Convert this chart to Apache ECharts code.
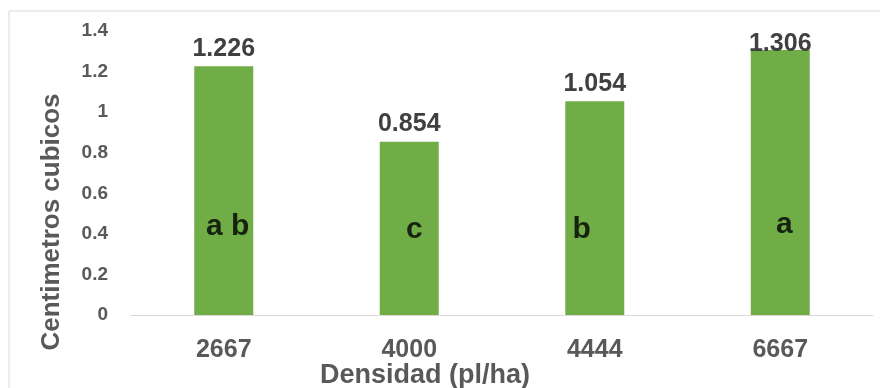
<!DOCTYPE html>
<html>
<head>
<meta charset="utf-8">
<script src="https://cdn.jsdelivr.net/npm/echarts@6/dist/echarts.min.js"></script>
<style>html,body{margin:0;padding:0;background:#fff;}#c{width:880px;height:388px;}</style>
</head>
<body>
<div id="c"></div>
<script>
const categories = ['2667', '4000', '4444', '6667'];
const values = [1.226, 0.854, 1.054, 1.306];
const letters = ['a b', 'c', 'b', 'a'];
const letterLevels = [0.434, 0.419, 0.419, 0.446];
const yTicks = [0, 0.2, 0.4, 0.6, 0.8, 1, 1.2, 1.4];

const letterShift = [4, 5, -13, 4];
const font = 'Liberation Sans, Arial, sans-serif';

const chart = echarts.init(document.getElementById('c'));
chart.setOption({
  animation: false,
  grid: { left: 131, right: 7, top: 31, bottom: 73 },
  xAxis: {
    type: 'category',
    data: categories,
    axisLine: { lineStyle: { color: '#D9D9D9', width: 1 } },
    axisTick: { show: false },
    axisLabel: { color: '#595959', fontWeight: 'bold', fontSize: 25, fontFamily: font, margin: 23 }
  },
  yAxis: {
    type: 'value',
    min: yTicks[0],
    max: yTicks[yTicks.length - 1],
    interval: 0.2,
    axisLine: { show: false },
    axisTick: { show: false },
    splitLine: { show: false },
    axisLabel: { color: '#595959', fontWeight: 'bold', fontSize: 19, fontFamily: font, margin: 23,
      formatter: v => String(Math.round(v * 10) / 10) }
  },
  series: [
    {
      type: 'bar',
      data: values.map((v, i) => ({
        value: v,
        label: i === 3 ? { offset: [0, 12] } : {}
      })),
      barWidth: 59,
      itemStyle: { color: '#70AD47' },
      label: {
        show: true, position: 'top', distance: 5,
        color: '#404040', fontWeight: 'bold', fontSize: 25, fontFamily: font,
        formatter: p => p.value.toFixed(3)
      }
    },
    {
      type: 'scatter',
      symbolSize: 0,
      data: letterLevels.map((v, i) => ({
        value: [categories[i], v],
        label: { offset: [letterShift[i], 0] }
      })),
      label: {
        show: true, position: 'inside',
        color: '#000', fontWeight: 'bold', fontSize: 30, fontFamily: font,
        formatter: p => letters[p.dataIndex]
      },
      z: 5
    }
  ],
  graphic: [
    { type: 'rect', shape: { x: 9, y: 11, width: 900, height: 420 }, style: { fill: 'none', stroke: '#D9D9D9', lineWidth: 1 }, silent: true },
    { type: 'text', x: 52, y: 222, rotation: Math.PI / 2,
      style: { text: 'Centimetros cubicos', fill: '#595959', font: 'bold 26px ' + font, align: 'center', verticalAlign: 'middle' } },
    { type: 'text', x: 425, y: 376,
      style: { text: 'Densidad (pl/ha)', fill: '#595959', font: 'bold 27px ' + font, align: 'center', verticalAlign: 'middle' } }
  ]
});
</script>
</body>
</html>
